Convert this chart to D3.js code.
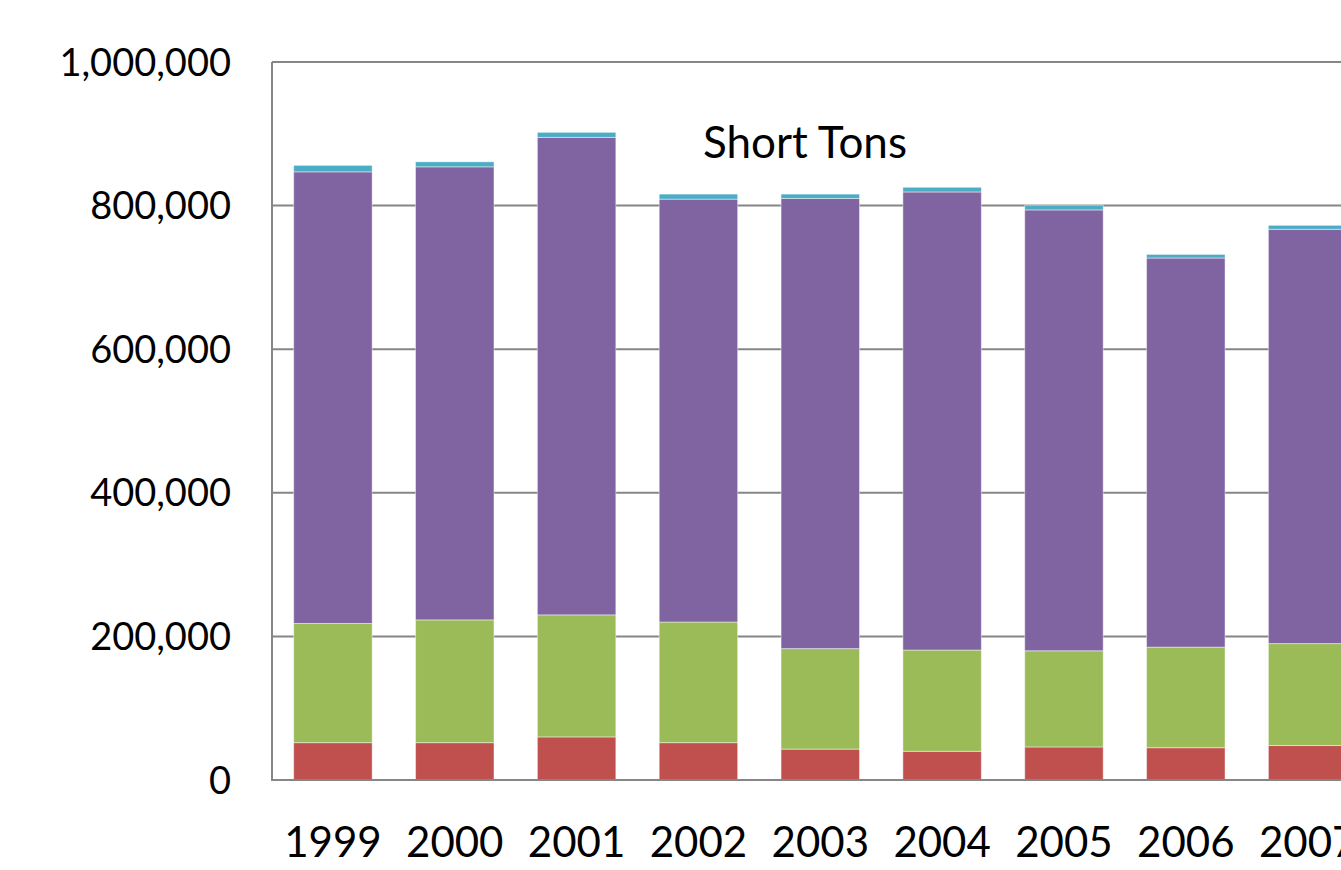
<!DOCTYPE html>
<html>
<head>
<meta charset="utf-8">
<script src="https://cdn.jsdelivr.net/npm/d3@7"></script>
<style>
  html, body { margin: 0; padding: 0; background: #fff; overflow: hidden; }
  svg { display: block; }
  text { font-family: Lato, "Open Sans", sans-serif; fill: #000; }
</style>
</head>
<body>
<svg id="chart" width="1341" height="870"></svg>
<script>
// Annual tonnage by component, in short tons (stacked bottom to top)
const years = ["1999", "2000", "2001", "2002", "2003", "2004", "2005", "2006", "2007"];
const seriesNames = ["Red", "Green", "Purple", "Cyan"];
const redValues    = [52000, 52000, 60000, 52000, 43000, 40000, 46000, 45000, 48000];
const greenValues  = [166000, 171000, 170000, 168000, 140000, 141000, 134000, 140000, 142000];
const purpleValues = [629000, 631000, 665000, 589000, 627000, 638000, 614000, 542000, 577000];
const cyanValues   = [9000, 7000, 7000, 7000, 6000, 6500, 6500, 5000, 5500];
const yTicks = [0, 200000, 400000, 600000, 800000, 1000000];
const chartTitle = "Short Tons";

const colors = ["#C0504D", "#9BBB59", "#8064A2", "#4BACC6"];

const rows = years.map((yr, i) => ({
  year: yr,
  Red: redValues[i],
  Green: greenValues[i],
  Purple: purpleValues[i],
  Cyan: cyanValues[i]
}));

const svg = d3.select("#chart");
const plotLeft = 272, plotTop = 62, plotBottom = 780;
const step = 121.84;
const plotRight = plotLeft + step * years.length;

const x = d3.scaleBand()
  .domain(years)
  .range([plotLeft, plotRight])
  .paddingInner(0.356)
  .paddingOuter(0.178);

const y = d3.scaleLinear()
  .domain([0, 1000000])
  .range([plotBottom, plotTop]);

// Horizontal gridlines
svg.append("g")
  .selectAll("line")
  .data(yTicks.filter(t => t > 0))
  .join("line")
  .attr("x1", plotLeft)
  .attr("x2", 1351)
  .attr("y1", d => y(d))
  .attr("y2", d => y(d))
  .attr("stroke", "#868686")
  .attr("stroke-width", 2);

// Stacked bars
const stack = d3.stack().keys(seriesNames);
const layers = stack(rows);

svg.append("g")
  .selectAll("g")
  .data(layers)
  .join("g")
  .attr("fill", (d, i) => colors[i])
  .selectAll("rect")
  .data(d => d)
  .join("rect")
  .attr("x", d => x(d.data.year))
  .attr("width", x.bandwidth())
  .attr("y", d => y(d[1]))
  .attr("height", d => y(d[0]) - y(d[1]))
  .attr("stroke", "rgba(255,255,255,0.45)")
  .attr("stroke-width", 1);

// Axis lines
svg.append("line")
  .attr("x1", plotLeft).attr("x2", plotLeft)
  .attr("y1", plotTop).attr("y2", plotBottom)
  .attr("stroke", "#868686").attr("stroke-width", 2);
svg.append("line")
  .attr("x1", plotLeft - 1).attr("x2", 1351)
  .attr("y1", plotBottom).attr("y2", plotBottom)
  .attr("stroke", "#868686").attr("stroke-width", 2);

// Y axis labels
const fmt = d3.format(",");
svg.append("g")
  .selectAll("text")
  .data(yTicks)
  .join("text")
  .attr("x", 231)
  .attr("y", d => y(d))
  .attr("dy", "0.36em")
  .attr("text-anchor", "end")
  .attr("font-size", 38)
  .text(d => fmt(d));

// X axis labels
svg.append("g")
  .selectAll("text")
  .data(years)
  .join("text")
  .attr("x", d => x(d) + x.bandwidth() / 2)
  .attr("y", 857)
  .attr("text-anchor", "middle")
  .attr("font-size", 42)
  .text(d => d);

// Title
svg.append("text")
  .attr("x", 805)
  .attr("y", 158)
  .attr("text-anchor", "middle")
  .attr("font-size", 44)
  .text(chartTitle);
</script>
</body>
</html>
